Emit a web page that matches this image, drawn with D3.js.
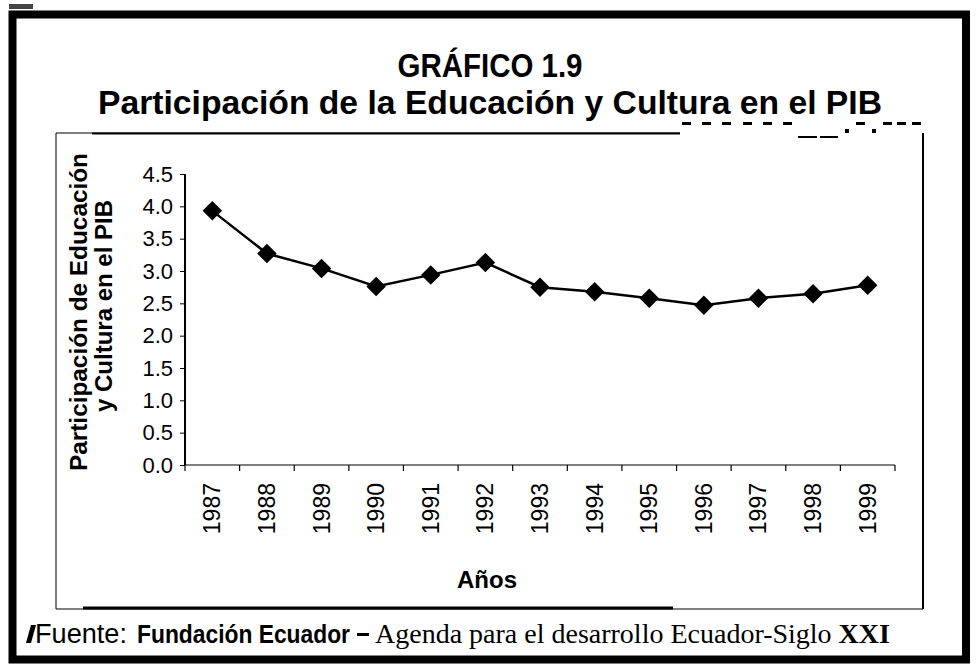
<!DOCTYPE html>
<html>
<head>
<meta charset="utf-8">
<script src="https://cdn.jsdelivr.net/npm/d3@7"></script>
<style>
  body { margin: 0; background: #fff; }
  svg { display: block; font-family: Arial, "Liberation Sans", sans-serif; }
</style>
</head>
<body>
<svg id="chart" width="977" height="664"></svg>
<script>
// data
const years = ["1987", "1988", "1989", "1990", "1991", "1992", "1993",
  "1994", "1995", "1996", "1997", "1998", "1999"];
const values = [3.93, 3.27, 3.04, 2.76, 2.94, 3.13, 2.75, 2.68, 2.58, 2.47, 2.58, 2.65, 2.78];
const yTicks = [0, 0.5, 1, 1.5, 2, 2.5, 3, 3.5, 4, 4.5];

const svg = d3.select("#chart");

// outer frame
svg.append("rect")
  .attr("x", 12.5).attr("y", 14.5)
  .attr("width", 953.5).attr("height", 645)
  .attr("fill", "none").attr("stroke", "#000").attr("stroke-width", 8);
svg.append("rect").attr("x", 9).attr("y", 4).attr("width", 24).attr("height", 5).attr("fill", "#444");

// inner frame (scanned, uneven)
svg.append("line").attr("x1", 56).attr("y1", 133).attr("x2", 56).attr("y2", 609)
  .attr("stroke", "#000").attr("stroke-width", 1);
svg.append("line").attr("x1", 923).attr("y1", 133).attr("x2", 923).attr("y2", 609)
  .attr("stroke", "#000").attr("stroke-width", 2);
svg.append("line").attr("x1", 56).attr("y1", 133).attr("x2", 680).attr("y2", 133)
  .attr("stroke", "#000").attr("stroke-width", 1);
svg.append("line").attr("x1", 92).attr("y1", 133.5).attr("x2", 680).attr("y2", 133.5)
  .attr("stroke", "#000").attr("stroke-width", 2);
svg.append("line").attr("x1", 56).attr("y1", 609).attr("x2", 923).attr("y2", 609)
  .attr("stroke", "#000").attr("stroke-width", 1);
svg.append("line").attr("x1", 83).attr("y1", 608).attr("x2", 673).attr("y2", 608)
  .attr("stroke", "#000").attr("stroke-width", 3);

// stray marks top-right of the scan
const marks = [[682, 122, 9, 3], [702, 122, 9, 3], [722, 122, 9, 3], [743, 122, 9, 3],
  [763, 122, 9, 3], [783, 122, 9, 3], [798, 136, 19, 2], [820, 136, 18, 2],
  [845, 129, 4, 4], [856, 122, 9, 3], [872, 129, 4, 4], [883, 122, 9, 3],
  [897, 122, 9, 3], [912, 122, 9, 3]];
svg.selectAll(".mark").data(marks).enter().append("rect")
  .attr("class", "mark")
  .attr("x", d => d[0]).attr("y", d => d[1])
  .attr("width", d => d[2]).attr("height", d => d[3])
  .attr("fill", "#000");

// titles
svg.append("text")
  .attr("x", 490).attr("y", 77)
  .attr("text-anchor", "middle")
  .attr("font-size", 33).attr("font-weight", "bold")
  .attr("textLength", 185).attr("lengthAdjust", "spacingAndGlyphs")
  .text("GRÁFICO 1.9");
svg.append("text")
  .attr("x", 490).attr("y", 114)
  .attr("text-anchor", "middle")
  .attr("font-size", 33).attr("font-weight", "bold")
  .attr("textLength", 784).attr("lengthAdjust", "spacingAndGlyphs")
  .text("Participación de la Educación y Cultura en el PIB");

// scales
const x = d3.scaleBand().domain(years).range([185, 895]);
const y = d3.scaleLinear().domain([0, 4.5]).range([465, 174]);

// y axis
const yAxis = svg.append("g")
  .attr("transform", "translate(185,0)")
  .call(d3.axisLeft(y).tickValues(yTicks).tickFormat(d3.format(".1f")).tickSize(5).tickPadding(7));
yAxis.select(".domain").attr("stroke-width", 2).attr("d", "M0,174V465");
yAxis.selectAll("text").attr("font-size", 22).attr("font-family", "Arial, 'Liberation Sans', sans-serif");

// x axis
const xAxis = svg.append("g")
  .attr("transform", "translate(0,465)")
  .call(d3.axisBottom(x).tickSize(0).tickPadding(0));
xAxis.select(".domain").attr("stroke-width", 1.2).attr("d", "M185,0H895");
xAxis.selectAll(".tick line").remove();
xAxis.selectAll(".tick text")
  .attr("font-size", 23)
  .attr("font-family", "Arial, 'Liberation Sans', sans-serif")
  .attr("text-anchor", "end")
  .attr("dy", null)
  .attr("transform", "translate(8,18) rotate(-90)");
svg.append("g").selectAll("line")
  .data(years.concat(["end"]))
  .enter().append("line")
  .attr("x1", (d, i) => 185 + i * x.step()).attr("x2", (d, i) => 185 + i * x.step())
  .attr("y1", 465).attr("y2", 471)
  .attr("stroke", "#000").attr("stroke-width", 1.2);

// axis titles
svg.append("text")
  .attr("transform", "translate(87,312) rotate(-90)")
  .attr("text-anchor", "middle")
  .attr("font-size", 24).attr("font-weight", "bold")
  .attr("textLength", 318).attr("lengthAdjust", "spacingAndGlyphs")
  .text("Participación de Educación");
svg.append("text")
  .attr("transform", "translate(112,306) rotate(-90)")
  .attr("text-anchor", "middle")
  .attr("font-size", 24).attr("font-weight", "bold")
  .text("y Cultura en el PIB");

svg.append("text")
  .attr("x", 487).attr("y", 588)
  .attr("text-anchor", "middle")
  .attr("font-size", 24).attr("font-weight", "bold")
  .text("Años");

// series line
const line = d3.line()
  .x((d, i) => x(years[i]) + x.bandwidth() / 2)
  .y(d => y(d));
svg.append("path")
  .datum(values)
  .attr("d", line)
  .attr("fill", "none").attr("stroke", "#000").attr("stroke-width", 2.5);

// diamond markers
svg.selectAll(".pt").data(values).enter().append("path")
  .attr("class", "pt")
  .attr("d", d3.symbol().type(d3.symbolSquare).size(190))
  .attr("transform", (d, i) => `translate(${x(years[i]) + x.bandwidth() / 2},${y(d)}) rotate(45)`)
  .attr("fill", "#000");

// source footer
svg.append("path").attr("d", "M26,643L31,643L36,625L31,625Z").attr("fill", "#000");
svg.append("text")
  .attr("x", 35).attr("y", 643)
  .attr("font-size", 27)
  .attr("textLength", 92).attr("lengthAdjust", "spacingAndGlyphs")
  .text("Fuente:");
svg.append("text")
  .attr("x", 137).attr("y", 643)
  .attr("font-size", 26).attr("font-weight", "bold")
  .attr("textLength", 213).attr("lengthAdjust", "spacingAndGlyphs")
  .text("Fundación Ecuador");
svg.append("rect").attr("x", 357).attr("y", 633).attr("width", 12).attr("height", 3).attr("fill", "#000");
const src = svg.append("text")
  .attr("x", 375).attr("y", 643)
  .attr("font-size", 28)
  .attr("font-family", "'Liberation Serif', 'DejaVu Serif', serif");
src.append("tspan").text("Agenda para el desarrollo Ecuador-Siglo ");
src.append("tspan").attr("font-weight", "bold").text("XXI");
</script>
</body>
</html>
